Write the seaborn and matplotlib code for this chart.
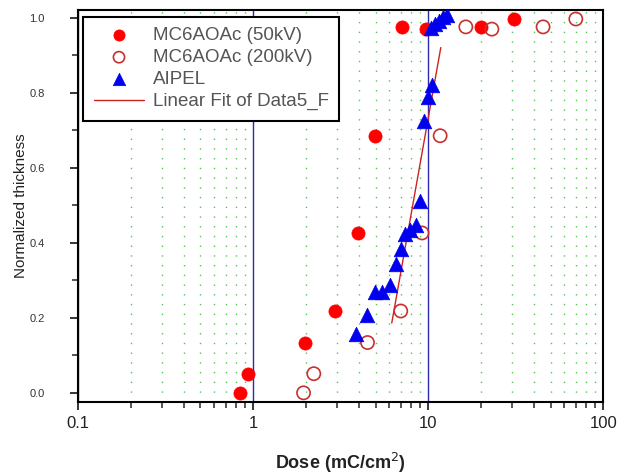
import numpy as np
import pandas as pd
import matplotlib
matplotlib.use("Agg")
import matplotlib.pyplot as plt
import matplotlib.ticker as mticker
import seaborn as sns

# ---- data ----
dose_50kv = [0.84, 0.94, 1.99, 2.95, 3.96, 4.99, 7.06, 9.77, 19.9, 30.9]
thick_50kv = [0.0, 0.051, 0.134, 0.218, 0.426, 0.685, 0.975, 0.969, 0.975, 0.996]

dose_200kv = [1.94, 2.22, 4.50, 6.97, 9.22, 11.7, 16.4, 23.1, 45.3, 69.7]
thick_200kv = [0.0, 0.051, 0.134, 0.218, 0.426, 0.685, 0.975, 0.969, 0.975, 0.996]

dose_aipel = [3.87, 4.46, 4.94, 5.43, 6.02, 6.54, 7.02, 7.36, 7.9, 8.52, 9.02,
              9.45, 10.0, 10.5, 10.4, 11.0, 11.6, 12.2, 12.8]
thick_aipel = [0.158, 0.207, 0.269, 0.269, 0.286, 0.344, 0.384, 0.424, 0.433,
               0.446, 0.512, 0.723, 0.787, 0.821, 0.972, 0.982, 0.992, 1.002, 1.008]

fit_dose = [6.19, 11.8]
fit_thick = [0.186, 0.92]

x_tick_values = [0.1, 1, 10, 100]
x_tick_labels = ["0.1", "1", "10", "100"]
y_tick_values = [0.0, 0.2, 0.4, 0.6, 0.8, 1.0]
y_tick_labels = ["0.0", "0.2", "0.4", "0.6", "0.8", "1.0"]

labels = ["MC6AOAc (50kV)", "MC6AOAc (200kV)", "AIPEL", "Linear Fit of Data5_F"]

df50 = pd.DataFrame({"dose": dose_50kv, "thick": thick_50kv})
df200 = pd.DataFrame({"dose": dose_200kv, "thick": thick_200kv})
dfa = pd.DataFrame({"dose": dose_aipel, "thick": thick_aipel})
dff = pd.DataFrame({"dose": fit_dose, "thick": fit_thick})

sns.set_theme(style="ticks")
plt.rcParams["font.family"] = ["Liberation Sans", "DejaVu Sans"]

fig = plt.figure(figsize=(6.2, 4.76), dpi=100)
ax = fig.add_axes([0.126, 0.155, 0.847, 0.824])
ax.set_xscale("log")

# grid
ax.set_axisbelow(True)
ax.grid(which="major", axis="x", color="#2a2ab0", linestyle="-", linewidth=1.0)
ax.grid(which="minor", axis="x", color="#55c455", linestyle=(0, (1, 6)), linewidth=1.0)

sns.lineplot(data=dff, x="dose", y="thick", ax=ax, color="#cc2222", linewidth=1.0,
             label=labels[3], zorder=3)
sns.scatterplot(data=df50, x="dose", y="thick", ax=ax, color="#ff0000", marker="o",
                s=90, edgecolor="#ff0000", linewidth=0.5, label=labels[0], zorder=4)
sns.scatterplot(data=df200, x="dose", y="thick", ax=ax, marker="o", s=90,
                facecolors="none", edgecolors="#c83030", linewidth=1.2,
                label=labels[1], zorder=4)
sns.scatterplot(data=dfa, x="dose", y="thick", ax=ax, color="#0000ee", marker="^",
                s=110, edgecolor="#0000ee", linewidth=0.5, label=labels[2], zorder=5)

ax.set_xlim(0.1, 100)
ax.set_ylim(-0.025, 1.02)

ax.set_xticks(x_tick_values)
ax.set_xticklabels(x_tick_labels)
ax.xaxis.set_minor_locator(mticker.LogLocator(base=10, subs=np.arange(2, 10), numticks=20))
ax.xaxis.set_minor_formatter(mticker.NullFormatter())
ax.set_yticks(y_tick_values)
ax.set_yticklabels(y_tick_labels)
ax.yaxis.set_minor_locator(mticker.MultipleLocator(0.1))

ax.tick_params(axis="x", which="major", direction="out", length=6, width=1.3,
               labelsize=12, labelcolor="#222222", pad=4)
ax.tick_params(axis="x", which="minor", direction="out", length=4, width=1.1)
ax.tick_params(axis="y", which="major", direction="out", length=6, width=1.3,
               labelsize=8, labelcolor="#333333", pad=18)
ax.tick_params(axis="y", which="minor", direction="out", length=4, width=1.1)
for sp in ax.spines.values():
    sp.set_linewidth(1.5)
    sp.set_color("black")

ax.set_xlabel("Dose (mC/cm$^2$)", fontsize=13, fontweight="bold", color="#222222")
ax.xaxis.set_label_coords(0.5, -0.125)
ax.set_ylabel("Normalized thickness", fontsize=11, color="#222222")
ax.yaxis.set_label_coords(-0.095, 0.5)

handles, lbls = ax.get_legend_handles_labels()
order = [lbls.index(l) for l in labels]
leg = ax.legend([handles[i] for i in order], [lbls[i] for i in order],
                loc="upper left", bbox_to_anchor=(0.01, 0.983), borderaxespad=0,
                frameon=True, fancybox=False, edgecolor="black", framealpha=1.0,
                fontsize=13.5, borderpad=0.55, labelspacing=0.26, handlelength=2.7,
                handletextpad=0.45, markerscale=0.85)
leg.get_frame().set_linewidth(1.5)
for t in leg.get_texts():
    t.set_color("#555555")

fig.savefig("out.png", dpi=100)
